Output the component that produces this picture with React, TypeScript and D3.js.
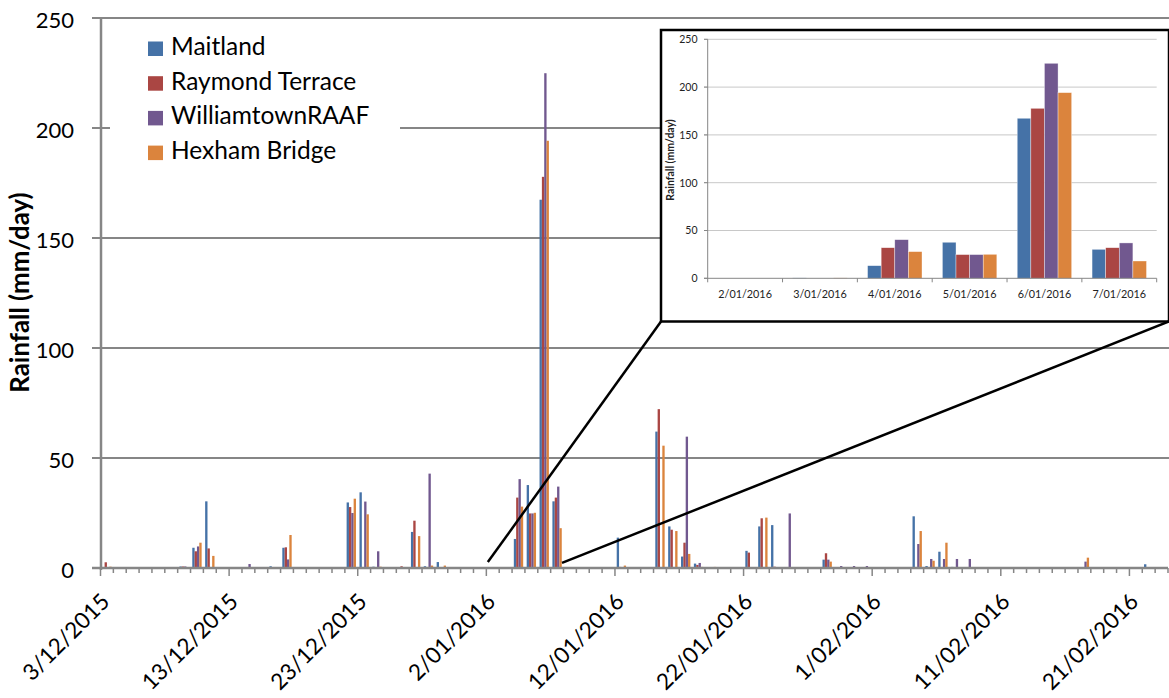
import React from "react";
import * as d3 from "d3";

// Categories: daily, 3/12/2015 .. 23/02/2016
const START_DATE = new Date(2015, 11, 3);
const END_DATE = new Date(2016, 1, 24); // exclusive
const DATES: Date[] = d3.timeDay.range(START_DATE, END_DATE);

const SERIES = ["Maitland", "Raymond Terrace", "WilliamtownRAAF", "Hexham Bridge"];
const COLORS = ["#4572A7", "#AA4643", "#71588F", "#DB843D"];

const maitland = [
  0, 0, 0, 0, 0, 0, 0.7, 9.2, 30.3, 0,
  0, 0, 0, 0.8, 9.2, 0, 0, 0, 0, 29.8,
  34.4, 0.6, 0, 0, 16.4, 0.8, 2.7, 0, 0, 0,
  0, 0.4, 13.2, 37.7, 167.4, 30.3, 0, 0, 0, 0,
  13.8, 0, 0, 62, 18.9, 5.2, 2, 0, 0, 0,
  7.8, 18.9, 19.5, 0, 0, 0, 3.8, 0, 0, 0,
  0, 0, 0, 23.5, 0.9, 7.4, 0.5, 0, 0, 0,
  0, 0, 0, 0, 0, 0, 0, 0, 0, 0,
  0, 1.7, 0,
];
const raymondTerrace = [
  2.6, 0, 0, 0, 0, 0, 0.7, 7.6, 8.9, 0,
  0, 0, 0, 0, 9.4, 0, 0, 0, 0, 27.7,
  0, 0, 0, 0.8, 21.5, 0, 0, 0, 0, 0,
  0, 0, 32, 24.8, 177.8, 32, 0, 0, 0, 0,
  0.5, 0, 0, 72.2, 17.4, 11.5, 1.4, 0, 0, 0,
  7, 22.6, 0.6, 0, 0, 0, 6.7, 0, 0, 0,
  0, 0, 0, 0, 0, 0, 0, 0, 0, 0,
  0, 0, 0, 0, 0, 0, 0, 0, 0, 0,
  0, 0, 0,
];
const williamtownRAAF = [
  0, 0, 0, 0, 0, 0, 0.7, 9.8, 0, 0,
  0, 1.8, 0, 0, 3.9, 0, 0, 0, 0, 25,
  30.2, 7.6, 0, 0, 0, 42.9, 0, 0, 0, 0,
  0, 0, 40.4, 24.8, 224.9, 37, 0, 0, 0, 0,
  0, 0, 0, 0, 0, 59.7, 2.3, 0, 0, 0,
  0, 0, 0, 24.8, 0, 0, 3.8, 0.9, 0.9, 0.9,
  0, 0, 0, 10.9, 4.1, 4.1, 4.1, 4.1, 0, 0,
  0, 0, 0, 0, 0, 0, 2.9, 0, 0, 0,
  0, 0, 0,
];
const hexhamBridge = [
  0.6, 0, 0, 0, 0, 0, 0, 11.5, 5.5, 0,
  0, 0, 0, 0, 15, 0, 0, 0, 0, 31.5,
  24.4, 0.6, 0, 0, 14.5, 1.1, 1.1, 0, 0, 0,
  0, 0.4, 27.9, 25.1, 194.2, 18.1, 0.4, 0, 0, 0,
  1.1, 0, 0, 55.6, 16.8, 6.4, 0.5, 0.5, 0, 0,
  0, 22.9, 0, 0, 0, 0, 2.9, 0.4, 0, 0,
  0, 0, 0, 16.8, 3.3, 11.5, 0, 0, 0, 0,
  0, 0, 0, 0, 0, 0, 4.7, 0, 0, 0,
  0, 0, 0,
];
const VALUES = [maitland, raymondTerrace, williamtownRAAF, hexhamBridge];

const Y_TICKS = [0, 50, 100, 150, 200, 250];
const LABEL_EVERY = 10;
const INSET_FIRST = 30; // 2/01/2016
const INSET_LAST = 35; // 7/01/2016

const FONT = "Lato, 'Open Sans', sans-serif";
const AXIS = "#868686";
const fmt = d3.timeFormat("%-d/%m/%Y");

export default function App() {
  const W = 1169, H = 698;
  // main scales
  const x = d3.scaleBand<number>().domain(d3.range(DATES.length)).range([100.5, 1168]).paddingInner(0).paddingOuter(0);
  const xs = d3.scaleBand<number>().domain(d3.range(SERIES.length)).range([0, x.bandwidth()]).paddingInner(0).paddingOuter(0.75);
  const y = d3.scaleLinear().domain([0, 250]).range([568, 18]);

  // inset scales
  const insetIdx = d3.range(INSET_FIRST, INSET_LAST + 1);
  const ix = d3.scaleBand<number>().domain(insetIdx).range([707.7, 1156.7]).paddingInner(0).paddingOuter(0);
  const ixs = d3.scaleBand<number>().domain(d3.range(SERIES.length)).range([0, ix.bandwidth()]).paddingInner(0).paddingOuter(0.75);
  const iy = d3.scaleLinear().domain([0, 250]).range([278.3, 39.3]);

  const box = { x0: 661, y0: 30, x1: 1169, y1: 321.5 };
  const tickDays = d3.range(DATES.length + 1);

  return (
    <svg width={W} height={H} style={{ position: "absolute", left: 0, top: 0, background: "#fff" }} fontFamily={FONT}>
      <rect x={0} y={0} width={W} height={H} fill="#fff" />
      {/* gridlines */}
      {Y_TICKS.filter((t) => t > 0).map((t) => (
        <line key={t} x1={92} x2={W} y1={y(t)} y2={y(t)} stroke={AXIS} strokeWidth={2} />
      ))}
      {/* y tick labels */}
      {Y_TICKS.map((t) => (
        <text key={t} x={74} y={y(t) + 9.5} textAnchor="end" fontSize={22} fill="#000">{t}</text>
      ))}
      {/* bars */}
      {VALUES.map((vals, s) =>
        vals.map((v, i) =>
          v > 0 ? (
            <rect key={s + "-" + i} x={(x(i) as number) + (xs(s) as number)} y={y(v)} width={xs.bandwidth()} height={y(0) - y(v)} fill={COLORS[s]} />
          ) : null
        )
      )}
      {/* axes */}
      <line x1={101} x2={101} y1={y(250)} y2={y(0) + 2} stroke={AXIS} strokeWidth={2.5} />
      <line x1={92} x2={1168} y1={y(0)} y2={y(0)} stroke={AXIS} strokeWidth={2.5} />
      {tickDays.map((k) => {
        const xx = k < DATES.length ? (x(k) as number) : (x(DATES.length - 1) as number) + x.bandwidth();
        const major = k % LABEL_EVERY === 0;
        return <line key={"t" + k} x1={xx} x2={xx} y1={y(0)} y2={y(0) + (major ? 8 : 5)} stroke={AXIS} strokeWidth={1.5} />;
      })}
      {/* x labels */}
      {DATES.map((d, i) => {
        if (i % LABEL_EVERY !== 0) return null;
        const cx = (x(i) as number) + x.bandwidth() / 2 + 4;
        const cy = 603;
        return (
          <text key={"l" + i} x={cx} y={cy} transform={`rotate(-45 ${cx} ${cy})`} textAnchor="end" fontSize={22.5} fill="#000">
            {fmt(d)}
          </text>
        );
      })}
      {/* y title */}
      <text x={29} y={292.5} transform="rotate(-90 29 292.5)" textAnchor="middle" fontSize={25.8} fontWeight="bold" fill="#000">
        Rainfall (mm/day)
      </text>
      {/* legend */}
      <rect x={110} y={26} width={290} height={148} fill="#fff" />
      {SERIES.map((s, k) => {
        const by = 55 + k * 34.7;
        return (
          <g key={s}>
            <rect x={148} y={by - 13.5} width={15} height={14.5} fill={COLORS[k]} />
            <text x={171} y={by} fontSize={24.5} fill="#000">{s}</text>
          </g>
        );
      })}
      {/* inset */}
      <rect x={box.x0} y={box.y0} width={box.x1 - box.x0} height={box.y1 - box.y0} fill="#fff" stroke="#000" strokeWidth={2.5} />
      {Y_TICKS.filter((t) => t > 0).map((t) => (
        <line key={"ig" + t} x1={704} x2={1156.7} y1={iy(t)} y2={iy(t)} stroke="#c8c8c8" strokeWidth={1} />
      ))}
      {Y_TICKS.map((t) => (
        <text key={"iyl" + t} x={697.5} y={iy(t) + 3.8} textAnchor="end" fontSize={10.5} fill="#222">{t}</text>
      ))}
      {insetIdx.map((i) =>
        VALUES.map((vals, s) =>
          vals[i] > 0 ? (
            <rect key={"ib" + i + "-" + s} x={(ix(i) as number) + (ixs(s) as number)} y={iy(vals[i])} width={ixs.bandwidth()} height={iy(0) - iy(vals[i])} fill={COLORS[s]} stroke="#fff" strokeOpacity={0.6} strokeWidth={0.6} />
          ) : null
        )
      )}
      <line x1={707.7} x2={707.7} y1={iy(250)} y2={iy(0)} stroke={AXIS} strokeWidth={1} />
      <line x1={704} x2={1156.7} y1={iy(0)} y2={iy(0)} stroke={AXIS} strokeWidth={1} />
      {Y_TICKS.map((t) => (
        <line key={"iyt" + t} x1={704} x2={707.7} y1={iy(t)} y2={iy(t)} stroke={AXIS} strokeWidth={1} />
      ))}
      {d3.range(insetIdx.length + 1).map((k) => {
        const xx = 707.7 + k * ix.step();
        return <line key={"ixt" + k} x1={xx} x2={xx} y1={iy(0)} y2={iy(0) + 4} stroke={AXIS} strokeWidth={1} />;
      })}
      {insetIdx.map((i) => (
        <text key={"ixl" + i} x={(ix(i) as number) + ix.bandwidth() / 2} y={297.5} textAnchor="middle" fontSize={10.8} fill="#222">
          {fmt(DATES[i])}
        </text>
      ))}
      <text x={674} y={160} transform="rotate(-90 674 160)" textAnchor="middle" fontSize={10.5} fontWeight="bold" fill="#222">
        Rainfall (mm/day)
      </text>
      {/* zoom connectors */}
      <line x1={(x(INSET_FIRST) as number) + 1.5} y1={y(2.7)} x2={box.x0} y2={box.y1} stroke="#000" strokeWidth={2.5} />
      <line x1={(x(INSET_LAST) as number) + x.bandwidth() - 1.5} y1={y(2.3)} x2={box.x1} y2={box.y1} stroke="#000" strokeWidth={2.5} />
    </svg>
  );
}
